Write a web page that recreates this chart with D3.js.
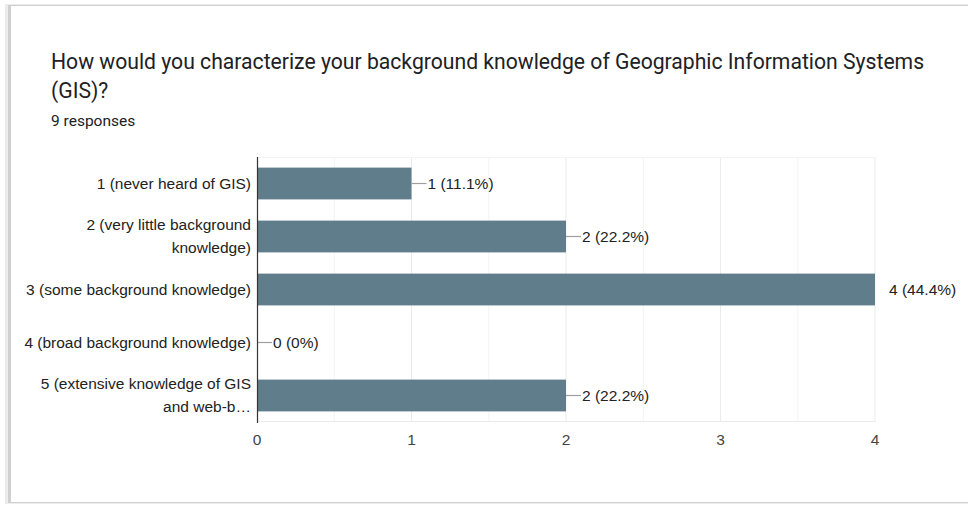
<!DOCTYPE html>
<html>
<head>
<meta charset="utf-8">
<script src="https://cdn.jsdelivr.net/npm/d3@7"></script>
<style>
  body { margin: 0; background: #fff; }
  svg { display: block; }
</style>
</head>
<body>
<svg id="chart"></svg>
<script>
const categories = [
  ["1 (never heard of GIS)"],
  ["2 (very little background", "knowledge)"],
  ["3 (some background knowledge)"],
  ["4 (broad background knowledge)"],
  ["5 (extensive knowledge of GIS", "and web-b\u2026"]
];
const counts = [1, 2, 4, 0, 2];
const percents = ["11.1%", "22.2%", "44.4%", "0%", "22.2%"];
const ticks = [0, 1, 2, 3, 4];

const width = 968, height = 506;
const svg = d3.select('#chart').attr('width', width).attr('height', height);
const labelFont = 15.5;

// card
svg.append('rect')
  .attr('x', 5).attr('y', 4).attr('width', width).attr('height', 500)
  .attr('fill', '#ececec');
svg.append('rect')
  .attr('x', 8).attr('y', 5).attr('width', width).attr('height', 498)
  .attr('fill', '#d0d0d0');
svg.append('rect')
  .attr('x', 11).attr('y', 6).attr('width', width).attr('height', 496)
  .attr('fill', '#fff');

// header
const title = svg.append('text')
  .attr('x', 51).attr('y', 69)
  .attr('font-family', 'Roboto, sans-serif')
  .attr('font-size', 21)
  .attr('fill', '#202124')
  .text('How would you characterize your background knowledge of Geographic Information Systems');
// fit title to the reference width
const tw = title.node().getComputedTextLength();
const titleSize = 21 * 874 / tw;
title.attr('font-size', titleSize);
svg.append('text')
  .attr('x', 51).attr('y', 98)
  .attr('font-family', 'Roboto, sans-serif')
  .attr('font-size', titleSize)
  .attr('fill', '#202124')
  .text('(GIS)?');
svg.append('text')
  .attr('x', 51).attr('y', 126)
  .attr('font-family', 'Roboto, sans-serif')
  .attr('font-size', 15.5)
  .attr('fill', '#202124')
  .text('9 responses');

const x = d3.scaleLinear().domain([0, 4]).range([257, 875]);
const y = d3.scaleBand().domain(d3.range(categories.length)).range([157, 422]).paddingInner(0.4).paddingOuter(0.2);

const g = svg.append('g').attr('font-family', 'Arial, "Liberation Sans", sans-serif');

// grid
const minor = d3.range(0.5, 4, 1);
g.selectAll('.minor').data(minor).enter().append('line')
  .attr('x1', d => x(d)).attr('x2', d => x(d))
  .attr('y1', 157).attr('y2', 422)
  .attr('stroke', '#f4f4f4');
g.selectAll('.major').data(ticks.slice(1)).enter().append('line')
  .attr('x1', d => x(d)).attr('x2', d => x(d))
  .attr('y1', 157).attr('y2', 422)
  .attr('stroke', '#ebebeb');
g.append('line')
  .attr('x1', x(0)).attr('x2', x(4))
  .attr('y1', 157.5).attr('y2', 157.5).attr('stroke', '#f4f4f4');
g.append('line')
  .attr('x1', x(0)).attr('x2', x(4))
  .attr('y1', 421.5).attr('y2', 421.5).attr('stroke', '#ebebeb');

// bars
g.selectAll('.bar').data(counts).enter().append('rect')
  .attr('x', x(0))
  .attr('y', (d, i) => y(i))
  .attr('width', d => x(d) - x(0))
  .attr('height', y.bandwidth())
  .attr('fill', '#607d8b');

// value labels with connector
const vl = g.selectAll('.vl').data(counts).enter().append('g')
  .attr('transform', (d, i) => `translate(${x(d)},${y(i) + y.bandwidth() / 2})`);
vl.append('line')
  .attr('x1', 0).attr('x2', (d, i) => d === 4 ? 0 : 15)
  .attr('stroke', '#9e9e9e').attr('stroke-width', 1.2);
vl.append('text')
  .attr('x', d => d === 4 ? 14 : 16)
  .attr('dy', '0.35em')
  .attr('font-size', labelFont)
  .attr('fill', '#222')
  .text((d, i) => `${d} (${percents[i]})`);

// category labels
const cl = g.selectAll('.cl').data(categories).enter().append('text')
  .attr('text-anchor', 'end')
  .attr('font-size', labelFont)
  .attr('fill', '#222')
  .attr('transform', (d, i) => `translate(251,${y(i) + y.bandwidth() / 2})`);
cl.selectAll('tspan').data(d => d.map((t, j) => ({ t, j, n: d.length }))).enter().append('tspan')
  .attr('x', 0)
  .attr('y', d => (d.j - (d.n - 1) / 2) * 23)
  .attr('dy', '0.35em')
  .text(d => d.t);

// axis line
g.append('line')
  .attr('x1', x(0) + 0.5).attr('x2', x(0) + 0.5)
  .attr('y1', 157).attr('y2', 423)
  .attr('stroke', '#333').attr('stroke-width', 1.2);

// tick labels
g.selectAll('.tick').data(ticks).enter().append('text')
  .attr('x', d => x(d)).attr('y', 445)
  .attr('text-anchor', 'middle')
  .attr('font-size', labelFont)
  .attr('fill', '#444')
  .text(d => d);
</script>
</body>
</html>
